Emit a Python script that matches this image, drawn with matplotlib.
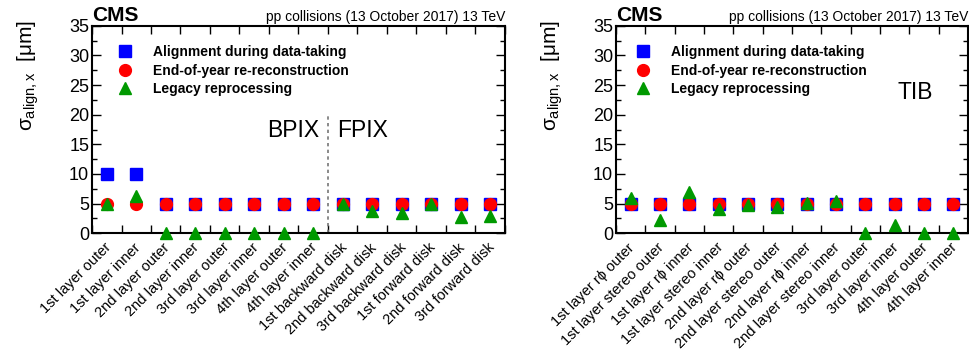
import matplotlib
matplotlib.use('Agg')
import matplotlib.pyplot as plt
import matplotlib.transforms as mtransforms
import numpy as np
from matplotlib.ticker import MultipleLocator, FixedLocator, FixedFormatter

plt.rcParams['font.family'] = ['Liberation Sans', 'DejaVu Sans']
plt.rcParams['mathtext.fontset'] = 'custom'
plt.rcParams['mathtext.rm'] = 'Liberation Sans'
plt.rcParams['mathtext.it'] = 'Liberation Sans'

# ----------------------------------------------------------- DATOS
pix_labels = ['1st layer outer', '1st layer inner', '2nd layer outer', '2nd layer inner',
              '3rd layer outer', '3rd layer inner', '4th layer outer', '4th layer inner',
              '1st backward disk', '2nd backward disk', '3rd backward disk',
              '1st forward disk', '2nd forward disk', '3rd forward disk']
pix_datataking = [10, 10, 5, 5, 5, 5, 5, 5, 5, 5, 5, 5, 5, 5]
pix_eoy = [5, 5, 5, 5, 5, 5, 5, 5, 5, 5, 5, 5, 5, 5]
pix_legacy = [5.0, 6.3, 0, 0, 0, 0, 0, 0, 5.0, 3.8, 3.5, 5.0, 2.8, 3.0]

tib_labels = ['1st layer r\u03d5 outer', '1st layer stereo outer', '1st layer r\u03d5 inner',
              '1st layer stereo inner', '2nd layer r\u03d5 outer', '2nd layer stereo outer',
              '2nd layer r\u03d5 inner', '2nd layer stereo inner', '3rd layer outer',
              '3rd layer inner', '4th layer outer', '4th layer inner']
tib_datataking = [5, 5, 5, 5, 5, 5, 5, 5, 5, 5, 5, 5]
tib_eoy = [5, 5, 5, 5, 5, 5, 5, 5, 5, 5, 5, 5]
tib_legacy = [5.9, 2.3, 7.0, 4.1, 4.7, 4.5, 5.1, 5.5, 0, 1.4, 0, 0]

leyenda = ['Alignment during data-taking', 'End-of-year re-reconstruction', 'Legacy reprocessing']
# ------------------------------------------------------- FIN DATOS

W, H = 969, 361
fig = plt.figure(figsize=(W / 100, H / 100), dpi=100)
ax1 = fig.add_axes([92 / W, (H - 233.3) / H, (505 - 92) / W, 207.6 / H])
ax2 = fig.add_axes([616 / W, (H - 233.3) / H, (968 - 616) / W, 207.6 / H])

# desplazamiento de las etiquetas rotadas (en pixeles)
desplaz = mtransforms.ScaledTranslation(-3 / 100, -3 / 100, fig.dpi_scale_trans)


def panel(ax, labels, d1, d2, d3, leg_x):
    n = len(labels)
    x = np.arange(n) + 0.5
    ax.plot(x, d1, 's', color='#0000ff', ms=8, ls='none', label=leyenda[0], clip_on=False, zorder=3)
    ax.plot(x, d2, 'o', color='#ff0000', ms=8.5, ls='none', label=leyenda[1], clip_on=False, zorder=4)
    ax.plot(x, d3, '^', color='#009900', ms=8.5, ls='none', label=leyenda[2], clip_on=False, zorder=5)
    ax.set_xlim(0, n)
    ax.set_ylim(0, 35)
    # ticks en los bordes de los bins, etiquetas en el centro
    ax.xaxis.set_major_locator(FixedLocator(x))
    ax.xaxis.set_major_formatter(FixedFormatter(labels))
    ax.xaxis.set_minor_locator(FixedLocator(np.arange(n + 1)))
    ax.tick_params(axis='x', which='major', length=0, pad=3)
    ax.tick_params(axis='x', which='minor', direction='in', length=5.5, width=1,
                   top=True, bottom=True)
    for t in ax.get_xticklabels():
        t.set_rotation(45)
        t.set_ha('right')
        t.set_va('top')
        t.set_rotation_mode('anchor')
        t.set_fontsize(10.5)
        t.set_transform(t.get_transform() + desplaz)
    ax.yaxis.set_major_locator(MultipleLocator(5))
    ax.yaxis.set_minor_locator(MultipleLocator(2.5))
    ax.tick_params(axis='y', which='major', direction='in', length=6.5, width=1,
                   left=True, right=True, labelsize=13, pad=2)
    ax.tick_params(axis='y', which='minor', direction='in', length=3.5, width=1,
                   left=True, right=True)
    for s in ax.spines.values():
        s.set_linewidth(1.5)
    ax.set_ylabel(r'$\sigma_{\mathrm{align,x}}$  [$\mathrm{\mu}$m]', fontsize=15, loc='top', labelpad=20)
    ax.yaxis.label.set_y(1.03)
    ax.text(0, 1.005, 'CMS', transform=ax.transAxes, fontsize=15, fontweight='bold',
            ha='left', va='bottom')
    ax.text(1, 1.01, 'pp collisions (13 October 2017) 13 TeV', transform=ax.transAxes,
            fontsize=10, ha='right', va='bottom')
    ax.legend(loc='upper left', bbox_to_anchor=(leg_x, 0.934), borderaxespad=0, frameon=False,
              prop={'weight': 'bold', 'size': 10}, handletextpad=1.0,
              labelspacing=0.33, numpoints=1)


panel(ax1, pix_labels, pix_datataking, pix_eoy, pix_legacy, 0.0327)
panel(ax2, tib_labels, tib_datataking, tib_eoy, tib_legacy, 0.021)

ax1.plot([8, 8], [0, 20], ls=(0, (2, 2)), color='#777777', lw=1.2)
ax1.text(7.7, 17.4, 'BPIX', fontsize=16.5, ha='right', va='center')
ax1.text(8.3, 17.4, 'FPIX', fontsize=16.5, ha='left', va='center')
ax2.text(10.19, 23.8, 'TIB', fontsize=16.5, ha='center', va='center')

plt.savefig('out.png', dpi=100)
